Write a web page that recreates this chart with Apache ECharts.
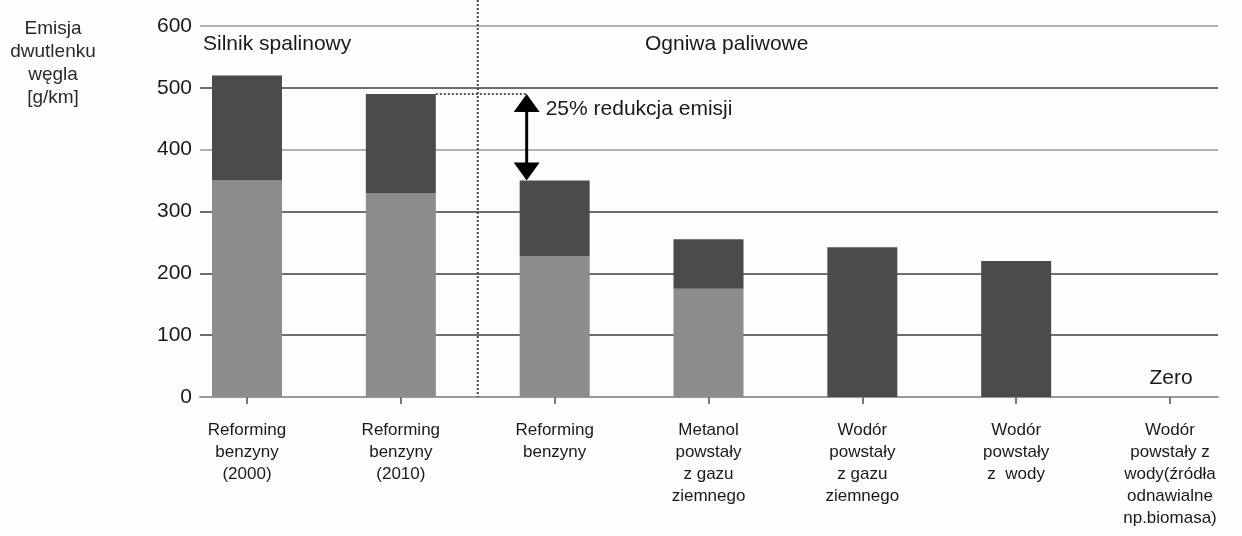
<!DOCTYPE html>
<html>
<head>
<meta charset="utf-8">
<script src="https://cdn.jsdelivr.net/npm/echarts@6/dist/echarts.min.js"></script>
<style>
  html, body { margin: 0; padding: 0; background: #fdfdfd; }
  #main { width: 1242px; height: 536px; }
</style>
</head>
<body>
<div id="main"></div>
<script>
// kategorie (os X)
var categories = [
    'Reforming\nbenzyny\n(2000)',
    'Reforming\nbenzyny\n(2010)',
    'Reforming\nbenzyny',
    'Metanol\npowstały\nz gazu\nziemnego',
    'Wodór\npowstały\nz gazu\nziemnego',
    'Wodór\npowstały\nz  wody',
    'Wodór\npowstały z\nwody(źródła\nodnawialne\nnp.biomasa)'
];
// dolna czesc slupka (jasnoszara)
var lowerPart = [350, 330, 228, 175, 0, 0, 0];
// gorna czesc slupka (ciemnoszara)
var upperPart = [170, 160, 122, 80, 242, 220, 0];
// podzialka osi Y
var yTicks = [0, 100, 200, 300, 400, 500, 600];

var FONT = '"Liberation Sans", Arial, sans-serif';
var TXT = '#1a1a1a';

var myChart = echarts.init(document.getElementById('main'));

var option = {
    backgroundColor: '#fdfdfd',
    animation: false,
    grid: [
        // siatka z liniami poziomymi
        { left: 200, right: 24, top: 26, bottom: 139 },
        // siatka ze slupkami
        { left: 247, right: 72, top: 26, bottom: 139 }
    ],
    xAxis: [
        {
            gridIndex: 0, type: 'value', min: 0, max: 1,
            axisLine: { show: true, lineStyle: { color: '#999', width: 2 } },
            axisTick: { show: false }, axisLabel: { show: false }, splitLine: { show: false }
        },
        {
            gridIndex: 1, type: 'category', boundaryGap: false,
            data: categories,
            axisLine: { show: false },
            axisTick: { show: true, length: 7, lineStyle: { color: '#777', width: 2 } },
            axisLabel: {
                interval: 0, margin: 22, color: TXT, fontFamily: FONT,
                fontSize: 17, lineHeight: 22, align: 'center', verticalAlign: 'top'
            }
        }
    ],
    yAxis: [
        {
            gridIndex: 0, type: 'value', min: yTicks[0], max: yTicks[yTicks.length - 1], interval: 100,
            axisLine: { show: false }, axisTick: { show: false },
            axisLabel: {
                margin: 8, color: TXT, fontFamily: FONT, fontSize: 21,
                formatter: function (v) { return yTicks.indexOf(v) >= 0 ? String(v) : ''; }
            },
            splitLine: {
                show: true,
                lineStyle: {
                    width: 2,
                    color: ['#999', '#6e6e6e', '#6e6e6e', '#6e6e6e', '#b0b0b0', '#6e6e6e', '#b0b0b0']
                }
            }
        },
        {
            gridIndex: 1, type: 'value', min: 0, max: 600, show: false
        }
    ],
    series: [
        {
            name: 'dolna', type: 'bar', stack: 'emisja',
            xAxisIndex: 1, yAxisIndex: 1, barWidth: 70, clip: false,
            itemStyle: { color: '#8c8c8c' },
            data: lowerPart
        },
        {
            name: 'gorna', type: 'bar', stack: 'emisja',
            xAxisIndex: 1, yAxisIndex: 1, barWidth: 70, clip: false,
            itemStyle: { color: '#4b4b4b' },
            data: upperPart
        }
    ]
};

myChart.setOption(option);

// adnotacje liczone z osi
function px(cat, val) {
    return myChart.convertToPixel({ xAxisIndex: 1, yAxisIndex: 1 }, [cat, val]);
}
var top2 = px(1, lowerPart[1] + upperPart[1]);
var top3 = px(2, lowerPart[2] + upperPart[2]);
var zeroPt = px(6, 0);
var arrowX = top3[0] - 28;
var sepX = (top2[0] + top3[0]) / 2;

myChart.setOption({
    graphic: [
        {
            type: 'text', x: 53, y: 17,
            style: {
                text: 'Emisja\ndwutlenku\nwęgla\n[g/km]', fill: '#2a2a2a',
                font: '19px ' + FONT, lineHeight: 23, align: 'center', textAlign: 'center'
            }
        },
        {
            type: 'text', x: 203, y: 34,
            style: { text: 'Silnik spalinowy', fill: TXT, font: '21px ' + FONT }
        },
        {
            type: 'text', x: 645, y: 34,
            style: { text: 'Ogniwa paliwowe', fill: TXT, font: '21px ' + FONT }
        },
        {
            type: 'text', x: zeroPt[0] + 1, y: zeroPt[1] - 29,
            style: { text: 'Zero', fill: TXT, font: '21px ' + FONT, align: 'center', textAlign: 'center' }
        },
        // pionowa linia kropkowana
        {
            type: 'line', z: 10,
            shape: { x1: sepX, y1: 0, x2: sepX, y2: zeroPt[1] },
            style: { stroke: '#444', lineWidth: 2, lineDash: [2, 2] }
        },
        // pozioma linia kropkowana
        {
            type: 'line', z: 10,
            shape: { x1: top2[0] + 35, y1: top2[1], x2: arrowX, y2: top2[1] },
            style: { stroke: '#555', lineWidth: 2, lineDash: [2, 2] }
        },
        // strzalka
        {
            type: 'line', z: 11,
            shape: { x1: arrowX, y1: top2[1] + 10, x2: arrowX, y2: top3[1] - 10 },
            style: { stroke: '#000', lineWidth: 3 }
        },
        {
            type: 'polygon', z: 11,
            shape: { points: [[arrowX, top2[1]], [arrowX - 13, top2[1] + 18], [arrowX + 13, top2[1] + 18]] },
            style: { fill: '#000' }
        },
        {
            type: 'polygon', z: 11,
            shape: { points: [[arrowX, top3[1]], [arrowX - 13, top3[1] - 18], [arrowX + 13, top3[1] - 18]] },
            style: { fill: '#000' }
        },
        {
            type: 'text', x: arrowX + 19, y: top2[1] + 5,
            style: { text: '25% redukcja emisji', fill: TXT, font: '21px ' + FONT }
        }
    ]
});
</script>
</body>
</html>
